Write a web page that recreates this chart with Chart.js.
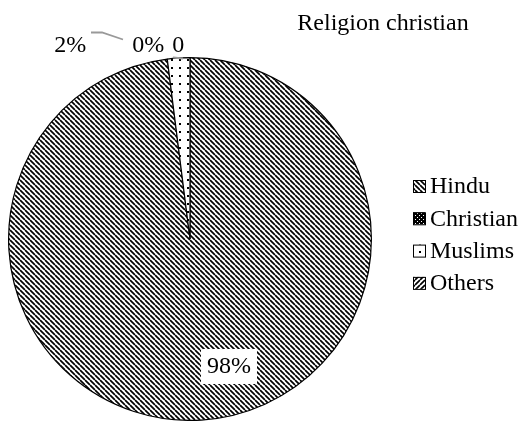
<!DOCTYPE html>
<html>
<head>
<meta charset="utf-8">
<script src="https://cdn.jsdelivr.net/npm/chart.js@4.4.1/dist/chart.umd.min.js"></script>
<style>
  html, body { margin: 0; padding: 0; background: #fff; }
</style>
</head>
<body>
<canvas id="pie" width="518" height="421"></canvas>
<script>
// religion breakdown
const religions = ["Hindu", "Christian", "Muslims", "Others"];
const shares = [98, 0, 2, 0];
const withPct = [true, true, true, false];
const chartTitle = "Religion christian";

const FONT = "24px 'Liberation Serif', 'Times New Roman', serif";

// hatch fills for the slices / legend boxes
function makePattern(kind) {
    const c = document.createElement("canvas");
    const s = kind == "dots" ? 8 : (kind == "check" ? 4 : 5);
    c.width = s; c.height = s;
    const g = c.getContext("2d");
    g.fillStyle = "#fff";
    g.fillRect(0, 0, s, s);
    g.strokeStyle = "#000";
    g.fillStyle = "#000";
    if (kind == "down" || kind == "up") {
        g.lineWidth = 1.7;
        g.beginPath();
        for (let k = -s; k <= s; k += s) {
            if (kind == "down") { g.moveTo(k, 0); g.lineTo(k + s, s); }
            else { g.moveTo(k, s); g.lineTo(k + s, 0); }
        }
        g.stroke();
    } else if (kind == "dots") {
        g.fillRect(3, 3, 2, 2);
    } else if (kind == "check") {
        g.fillRect(0, 0, s, s);
        g.fillStyle = "#fff";
        g.fillRect(1, 1, 1, 1);
        g.fillRect(3, 3, 1, 1);
    }
    return g.createPattern(c, "repeat");
}

const fills = [makePattern("down"), makePattern("check"), makePattern("dots"), makePattern("up")];

// where each value label sits, in units of the pie radius from its centre
const labelSpots = [
    { dx: 0.215, dy: 0.70, box: true },
    { dx: -0.23, dy: -1.07 },
    { dx: -0.66, dy: -1.07 },
    { dx: -0.065, dy: -1.07 }
];

const extras = {
    id: "extras",
    afterDraw(chart) {
        const ctx = chart.ctx;
        const arc = chart.getDatasetMeta(0).data[0];
        const cx = arc.x, cy = arc.y, r = arc.outerRadius;
        ctx.save();
        ctx.font = FONT;
        ctx.fillStyle = "#000";
        ctx.textBaseline = "middle";

        // title
        ctx.textAlign = "center";
        ctx.fillText(chartTitle, 383, 24);

        // leader lines
        ctx.strokeStyle = "#999";
        ctx.lineWidth = 1.8;
        ctx.beginPath();
        ctx.moveTo(91, 32.5);
        ctx.lineTo(102, 32.5);
        ctx.lineTo(123, 39.5);
        ctx.stroke();
        ctx.beginPath();
        ctx.moveTo(173, 57.5);
        ctx.lineTo(183, 58.5);
        ctx.stroke();

        // value labels
        shares.forEach((v, i) => {
            const p = labelSpots[i];
            const x = cx + p.dx * r, y = cy + p.dy * r;
            const txt = v + (withPct[i] ? "%" : "");
            if (p.box) {
                const w = ctx.measureText(txt).width + 12;
                ctx.fillStyle = "#fff";
                ctx.fillRect(x - w / 2, y - 17, w, 35);
                ctx.fillStyle = "#000";
            }
            ctx.fillText(txt, x, y + 1);
        });

        // legend
        ctx.textAlign = "left";
        religions.forEach((name, i) => {
            const y = 186 + i * 32.3;
            ctx.fillStyle = fills[i];
            ctx.fillRect(413, y - 6, 12, 12);
            ctx.strokeStyle = "#000";
            ctx.lineWidth = 1;
            ctx.strokeRect(413.5, y - 5.5, 12, 12);
            ctx.fillStyle = "#000";
            ctx.fillText(name, 430, y + 1);
        });
        ctx.restore();
    }
};

new Chart(document.getElementById("pie"), {
    type: "pie",
    data: {
        labels: religions,
        datasets: [{
            data: shares,
            backgroundColor: fills,
            borderColor: "#000",
            borderWidth: 1.2,
            hoverOffset: 0
        }]
    },
    options: {
        responsive: false,
        animation: false,
        devicePixelRatio: 1,
        layout: { padding: { left: 8, right: 146, top: 57, bottom: 0 } },
        plugins: {
            legend: { display: false },
            tooltip: { enabled: false }
        }
    },
    plugins: [extras]
});
</script>
</body>
</html>
